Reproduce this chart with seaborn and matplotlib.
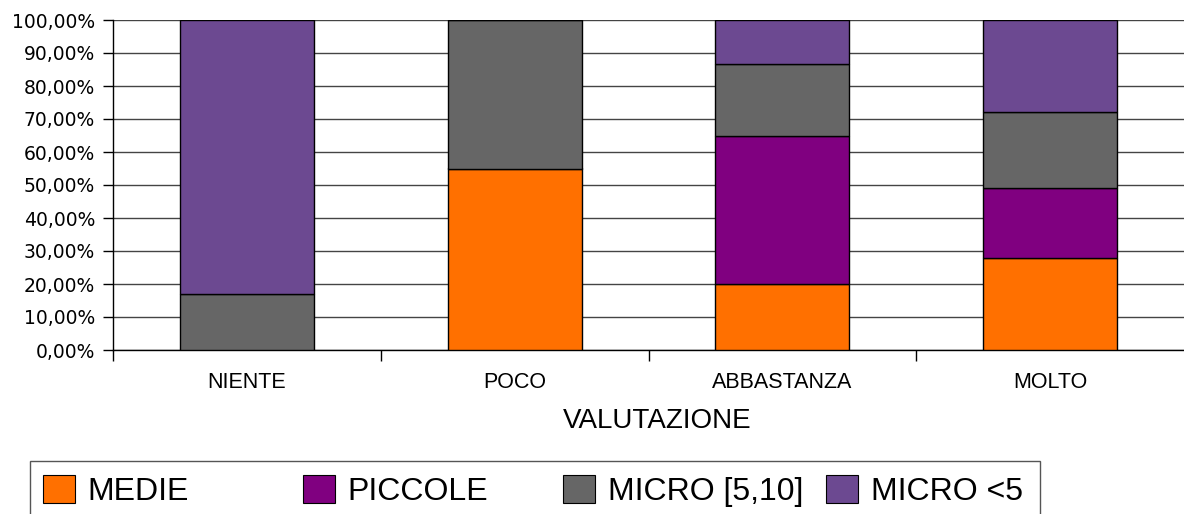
import numpy as np
import pandas as pd
import matplotlib
matplotlib.use("Agg")
import matplotlib.pyplot as plt
from matplotlib.ticker import FuncFormatter, FixedLocator
from matplotlib.patches import Patch, Rectangle
import seaborn as sns

# data (percent of each category)
categories = ["NIENTE", "POCO", "ABBASTANZA", "MOLTO"]
series_names = ["MEDIE", "PICCOLE", "MICRO [5,10]", "MICRO <5"]
medie = [0.0, 55.0, 20.0, 28.0]
piccole = [0.0, 0.0, 45.0, 21.0]
micro_5_10 = [17.0, 45.0, 21.6, 23.0]
micro_lt5 = [83.0, 0.0, 13.4, 28.0]
colors = ["#FF7000", "#800080", "#666666", "#6C4991"]

sns.set_theme(style="white")
plt.rcParams['font.family'] = ['Liberation Sans', 'DejaVu Sans']
plt.rcParams['text.color'] = 'black'

fig = plt.figure(figsize=(11.84, 5.14), dpi=100)
ax = fig.add_axes([113 / 1184, 1 - 350 / 514, 1 - 113 / 1184, 330 / 514])

df = pd.DataFrame({"cat": categories, "MEDIE": medie, "PICCOLE": piccole,
                   "MICRO [5,10]": micro_5_10, "MICRO <5": micro_lt5})

bottom = np.zeros(len(categories))
for name, col in zip(series_names, colors):
    sns.barplot(data=df, x="cat", y=name, color=col, width=0.5, ax=ax,
                bottom=bottom.copy(), edgecolor="black", linewidth=1.0,
                saturation=1, zorder=3)
    bottom += df[name].values

ax.set_xlim(-0.5, 3.5)
ax.set_ylim(0, 100)
ax.set_yticks(np.arange(0, 101, 10))
ax.yaxis.set_major_formatter(FuncFormatter(lambda v, p: f"{v:.2f}%".replace(".", ",")))
ax.grid(axis="y", color="#444444", linewidth=1.0, zorder=0)
ax.grid(axis="x", visible=False)

for s in ["top", "right"]:
    ax.spines[s].set_visible(False)
for s in ["left", "bottom"]:
    ax.spines[s].set_color("black")
    ax.spines[s].set_linewidth(1.0)

ax.tick_params(axis="y", which="major", left=True, length=7, width=1, color="black",
               pad=6, labelsize=13.5, labelcolor="black")
for t in ax.get_yticklabels():
    t.set_fontfamily("DejaVu Sans")

ax.xaxis.set_minor_locator(FixedLocator([-0.5, 0.5, 1.5, 2.5]))
ax.tick_params(axis="x", which="minor", bottom=True, length=8, width=1, color="black")
ax.tick_params(axis="x", which="major", bottom=False, length=0, pad=16,
               labelsize=15.5, labelcolor="black")

ax.set_xlabel("VALUTAZIONE", fontsize=20, color="black")
ax.xaxis.set_label_coords(0.508, -0.175)
ax.set_ylabel("")

# legend: framed box with four equally spaced entries (box runs off the bottom)
frame = Rectangle((30 / 1184, -0.05), 1010 / 1184, 0.05 + (514 - 461) / 514,
                  transform=fig.transFigure, facecolor="white", edgecolor="#555555",
                  linewidth=1.0)
fig.add_artist(frame)
entry_x = [43, 303, 563, 826]
for xpos, name, col in zip(entry_x, series_names, colors):
    leg = fig.legend([Patch(facecolor=col, edgecolor="black", linewidth=0.8)], [name],
                     loc="center left", bbox_to_anchor=(xpos / 1184, 1 - 491 / 514),
                     fontsize=23, frameon=False, borderpad=0, borderaxespad=0,
                     handlelength=1.0, handleheight=1.0, handletextpad=0.4,
                     labelcolor="black")

fig.savefig("out.png", dpi=100)
